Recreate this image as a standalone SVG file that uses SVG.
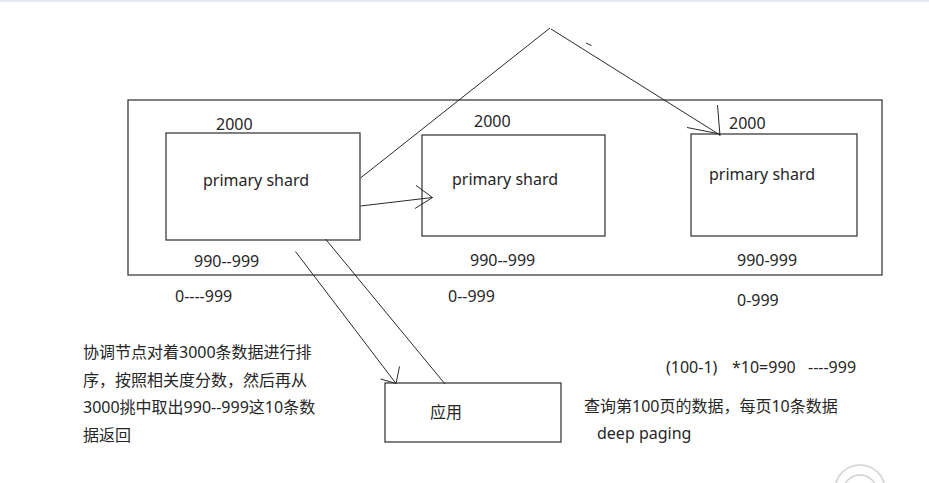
<svg xmlns="http://www.w3.org/2000/svg" width="929" height="483" viewBox="0 0 929 483">
<style>
.box{fill:none;stroke:#3c3c3c;stroke-width:1.3}
.ln{fill:none;stroke:#2a2a2a;stroke-width:1}
.t{font-family:"Noto Sans","Noto Sans CJK SC",sans-serif;font-size:16px;fill:#262626}
.wm{fill:none;stroke:#d0d0d0;stroke-width:1.5}
</style>
<rect x="0" y="0" width="929" height="483" fill="#ffffff"/>
<rect x="0" y="0" width="929" height="2" fill="#e4e9f2"/>
<g id="cluster">
<rect class="box" x="128" y="100" width="754" height="175"/>
</g>
<g id="shard1">
<rect class="box" x="166" y="133" width="194" height="107"/>
<text class="t" x="216" y="130">2000</text>
<text class="t" x="203" y="186">primary shard</text>
<text class="t" x="194" y="267">990--999</text>
<text class="t" x="175" y="302">0----999</text>
</g>
<g id="shard2">
<rect class="box" x="422" y="135" width="183" height="101"/>
<text class="t" x="474" y="127">2000</text>
<text class="t" x="452" y="185">primary shard</text>
<text class="t" x="470" y="266">990--999</text>
<text class="t" x="448" y="302">0--999</text>
</g>
<g id="shard3">
<rect class="box" x="691" y="134" width="166" height="102"/>
<text class="t" x="729" y="129">2000</text>
<text class="t" x="709" y="180">primary shard</text>
<text class="t" x="737" y="266">990-999</text>
<text class="t" x="737" y="306">0-999</text>
</g>
<g id="app">
<rect class="box" x="385" y="383" width="176" height="59"/>
<text class="t" x="430" y="418">应用</text>
</g>
<g id="note-left">
<text class="t" x="83" y="358">协调节点对着3000条数据进行排</text>
<text class="t" x="83" y="386">序，按照相关度分数，然后再从</text>
<text class="t" x="83" y="413">3000挑中取出990--999这10条数</text>
<text class="t" x="83" y="441">据返回</text>
</g>
<g id="note-right">
<text class="t" y="373"><tspan x="666">(100-1)</tspan><tspan x="732">*10=990</tspan><tspan x="808">----999</tspan></text>
<text class="t" x="584" y="412">查询第100页的数据，每页10条数据</text>
<text class="t" x="597" y="439">deep paging</text>
</g>
<g id="connectors">
<polyline class="ln" points="360.5,178 550,28"/>
<polyline class="ln" points="551,29 720,135"/>
<line class="ln" x1="586" y1="43" x2="591.5" y2="45.5"/>
<line class="ln" x1="717.5" y1="105" x2="720" y2="136"/>
<line class="ln" x1="687" y1="127.5" x2="720" y2="134"/>
<line class="ln" x1="360.5" y1="206" x2="432.5" y2="197.5"/>
<line class="ln" x1="416" y1="185.5" x2="432.5" y2="197.5"/>
<line class="ln" x1="415" y1="208.5" x2="432.5" y2="197.5"/>
<line class="ln" x1="295.5" y1="251.5" x2="396" y2="383.5"/>
<line class="ln" x1="399.5" y1="366.5" x2="396" y2="383.5"/>
<line class="ln" x1="380.5" y1="379" x2="396" y2="383.5"/>
<line class="ln" x1="325.5" y1="239" x2="445" y2="384"/>
</g>
<g id="watermark">
<circle class="wm" cx="860" cy="490" r="25"/>
<circle class="wm" cx="860" cy="492" r="17"/>
</g>
</svg>
